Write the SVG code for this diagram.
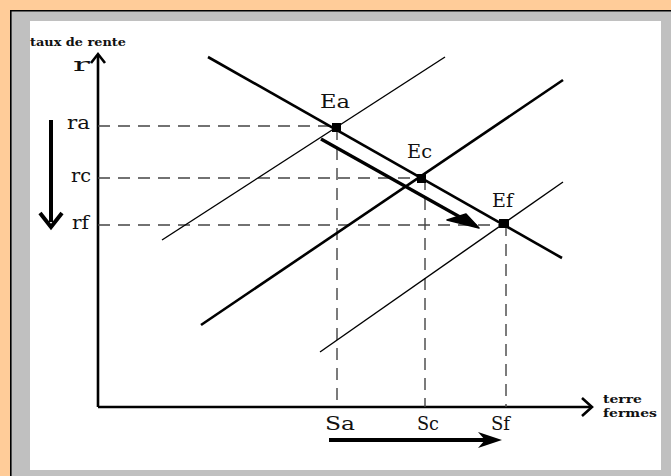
<svg xmlns="http://www.w3.org/2000/svg" width="671" height="476" viewBox="0 0 671 476">
<style>
.lbl{font-family:"DejaVu Serif","Liberation Serif",serif;font-size:19px;fill:#111}
.sm{font-family:"DejaVu Serif","Liberation Serif",serif;font-size:11px;font-weight:bold;fill:#111}
.dash{stroke:#444;stroke-width:1.4;stroke-dasharray:12 8;fill:none}
.thin{stroke:#000;stroke-width:1.4;fill:none}
.thick{stroke:#000;stroke-width:2.6;fill:none}
.axis{stroke:#000;stroke-width:2.6;fill:none}
.pt{fill:#000}
</style>
<rect x="0" y="0" width="671" height="476" fill="#FFCC99"/>
<rect x="10" y="10" width="661" height="466" fill="#C0C0C0"/>
<path d="M10.8 476 V10.8 H671" stroke="#000" stroke-width="1.6" fill="none"/>
<rect x="30" y="21" width="631" height="449" fill="#FFFFFF"/>

<g id="axes">
<path class="axis" d="M98 407 V55"/>
<path class="axis" d="M91 63 L98 54 L105 63"/>
<path class="axis" d="M98 407 H592"/>
<path class="axis" d="M582 398 L592 407 L582 416"/>
<text class="sm" x="30" y="46" textLength="96" lengthAdjust="spacingAndGlyphs">taux de rente</text>
<text class="lbl" x="73" y="71" textLength="17" lengthAdjust="spacingAndGlyphs">r</text>
<text class="sm" x="603" y="403" textLength="39" lengthAdjust="spacingAndGlyphs">terre</text>
<text class="sm" x="603" y="417" textLength="54" lengthAdjust="spacingAndGlyphs">fermes</text>
</g>

<g id="connectors">
<path class="dash" d="M98 126 H336"/>
<path class="dash" d="M98 178 H422"/>
<path class="dash" d="M98 225 H504"/>
<path class="dash" d="M337 128 V407"/>
<path class="dash" d="M425 178 V407"/>
<path class="dash" d="M506 224 V407"/>
<path class="thin" d="M162 240 L445 57"/>
<path class="thick" d="M201 325 L563 80"/>
<path class="thin" d="M320 352 L563 182"/>
<path class="thick" d="M208 57 L562 258"/>
<path d="M321 139 L476 226" stroke="#000" stroke-width="3.2" fill="none"/>
<path d="M447 220 L479 228 L466 214 Z" fill="#000" stroke="#000" stroke-width="1.5" stroke-linejoin="round"/>
<path d="M51 120 V222" stroke="#000" stroke-width="4" fill="none"/>
<path d="M40 213 L51 227 L62 213" stroke="#000" stroke-width="4" fill="none" stroke-linejoin="miter"/>
<path d="M329 440 H494" stroke="#000" stroke-width="4" fill="none"/>
<path d="M478 432 L502 440 L478 448 L485 440 Z" fill="#000"/>
</g>

<g id="Ea"><rect class="pt" x="332" y="123" width="9" height="9"/><text class="lbl" x="320" y="108" textLength="30" lengthAdjust="spacingAndGlyphs">Ea</text></g>
<g id="Ec"><rect class="pt" x="417" y="174" width="9" height="9"/><text class="lbl" x="407" y="158" textLength="25" lengthAdjust="spacingAndGlyphs">Ec</text></g>
<g id="Ef"><rect class="pt" x="499" y="219" width="10" height="9"/><text class="lbl" x="492" y="207" textLength="21" lengthAdjust="spacingAndGlyphs">Ef</text></g>

<g id="ylabels">
<text class="lbl" x="67" y="129" textLength="23" lengthAdjust="spacingAndGlyphs">ra</text>
<text class="lbl" x="71" y="182" textLength="20" lengthAdjust="spacingAndGlyphs">rc</text>
<text class="lbl" x="72" y="229" textLength="17" lengthAdjust="spacingAndGlyphs">rf</text>
</g>
<g id="xlabels">
<text class="lbl" x="325" y="430" textLength="30" lengthAdjust="spacingAndGlyphs">Sa</text>
<text class="lbl" x="417" y="430" textLength="22" lengthAdjust="spacingAndGlyphs">Sc</text>
<text class="lbl" x="491" y="430" textLength="19" lengthAdjust="spacingAndGlyphs">Sf</text>
</g>
</svg>
